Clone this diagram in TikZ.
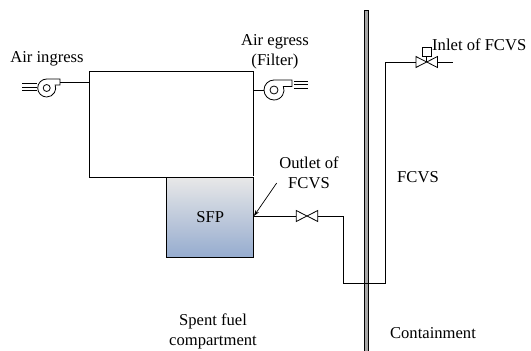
\documentclass[tikz,border=0pt]{standalone}
\usepackage{fontspec}
\setmainfont{Liberation Serif}
\usetikzlibrary{arrows.meta, positioning}

\definecolor{poolTop}{RGB}{232,232,232}
\definecolor{poolBot}{RGB}{150,172,207}

\begin{document}
\begin{tikzpicture}[
  x=1pt, y=-1pt,
  lbl/.style={font=\fontsize{16.6}{20}\selectfont, align=center, inner sep=0pt},
  pipe/.style={line width=1pt},
  thinline/.style={line width=0.8pt},
  valve/.style={minimum width=21pt, minimum height=10.5pt, inner sep=0pt},
  pool/.style={rectangle, draw, line width=1pt, top color=poolTop, bottom color=poolBot,
               minimum width=86.5pt, minimum height=80pt, inner sep=0pt},
  wall/.style={draw, fill=gray!70, line width=0.7pt},
  pointer/.style={-{Stealth[length=6pt,width=4pt]}, line width=0.7pt},
]
\useasboundingbox (0,0) rectangle (531,351);

% ---- containment wall ----
\node[wall, rectangle, minimum width=4pt, minimum height=342pt, inner sep=0pt] (containment) at (366,181) {};

% ---- compartment and pool ----
\coordinate (roomA) at (89,71);
\coordinate (roomB) at (253.5,71);
\coordinate (roomC) at (253.5,177);
\coordinate (roomD) at (167,177);
\coordinate (roomE) at (89,177);
\node[pool, lbl] (sfp) at (210.2,217) {SFP};
\draw[pipe] (roomC) -- (roomB) -- (roomA) -- (roomE) -- (roomD);
\draw[white, line width=1pt] (sfp.north west) -- (sfp.north east);

% ---- fans ----
\node[inner sep=0pt, minimum size=18pt] (fanIn)  at (46.7,88) {};
\node[inner sep=0pt, minimum size=20pt] (fanOut) at (274,90)  {};
\draw[thinline] (46.7,79) arc[start angle=-90, delta angle=-290, radius=9]
  -- (60,85) -- (60,79) -- cycle;
\draw[thinline] (274,80) arc[start angle=-90, delta angle=-290, radius=10]
  -- (292,86.5) -- (292,80) -- cycle;
\draw[thinline] (fanIn) circle[radius=3.5];
\draw[thinline] (fanOut) circle[radius=4];
\foreach \y in {83.5,87,90.5}
  \draw[thinline] (22,\y) -- (37,\y);
\foreach \y in {81,84.7,88}
  \draw[thinline] (294,\y) -- (308,\y);
\coordinate (fanInOut) at (60,82);
\draw[pipe] (fanInOut) -- (89,82);
\draw[pipe] (253.5,90) -- (fanOut.west);

% ---- valves ----
\node[valve] (vOutlet) at (307,216) {};
\node[valve] (vInlet)  at (426.7,62) {};
\foreach \v in {vOutlet, vInlet}
  \draw[thinline] (\v.north west) -- (\v.south east) -- (\v.north east) -- (\v.south west) -- cycle;
\node[draw, thinline, minimum size=8.5pt, inner sep=0pt] (vActuator) at (426.7,52) {};
\draw[thinline] (vActuator) -- (vInlet.center);

% ---- pipe run ----
\coordinate (bendA) at (343,216);
\coordinate (bendB) at (343,283);
\coordinate (bendC) at (385,283);
\coordinate (bendD) at (385,62);
\coordinate (inletEnd) at (453,62);
\draw[pipe] (sfp.east |- vOutlet) -- (vOutlet.west);
\draw[pipe] (vOutlet.east) -- (bendA) -- (bendB) -- (bendC) -- (bendD) -- (vInlet.west);
\draw[pipe] (vInlet.east) -- (inletEnd);

% ---- labels ----
\node[lbl] (airIn)  at (47,59)  {Air ingress};
\node[lbl] (airOut) at (275,52) {Air egress\\(Filter)};
\node[lbl, anchor=west] (inletLbl) at (432,45) {Inlet of FCVS};
\node[lbl] (outletLbl) at (309,173) {Outlet of\\FCVS};
\node[lbl] (fcvs) at (418,177) {FCVS};
\node[lbl] (containLbl) at (433,333) {Containment};
\node[lbl] (compartment) at (213,331) {Spent fuel\\compartment};

\coordinate (pointerTail) at (276.7,183);
\draw[pointer] (pointerTail) -- (sfp.east |- bendA);

\end{tikzpicture}
\end{document}
